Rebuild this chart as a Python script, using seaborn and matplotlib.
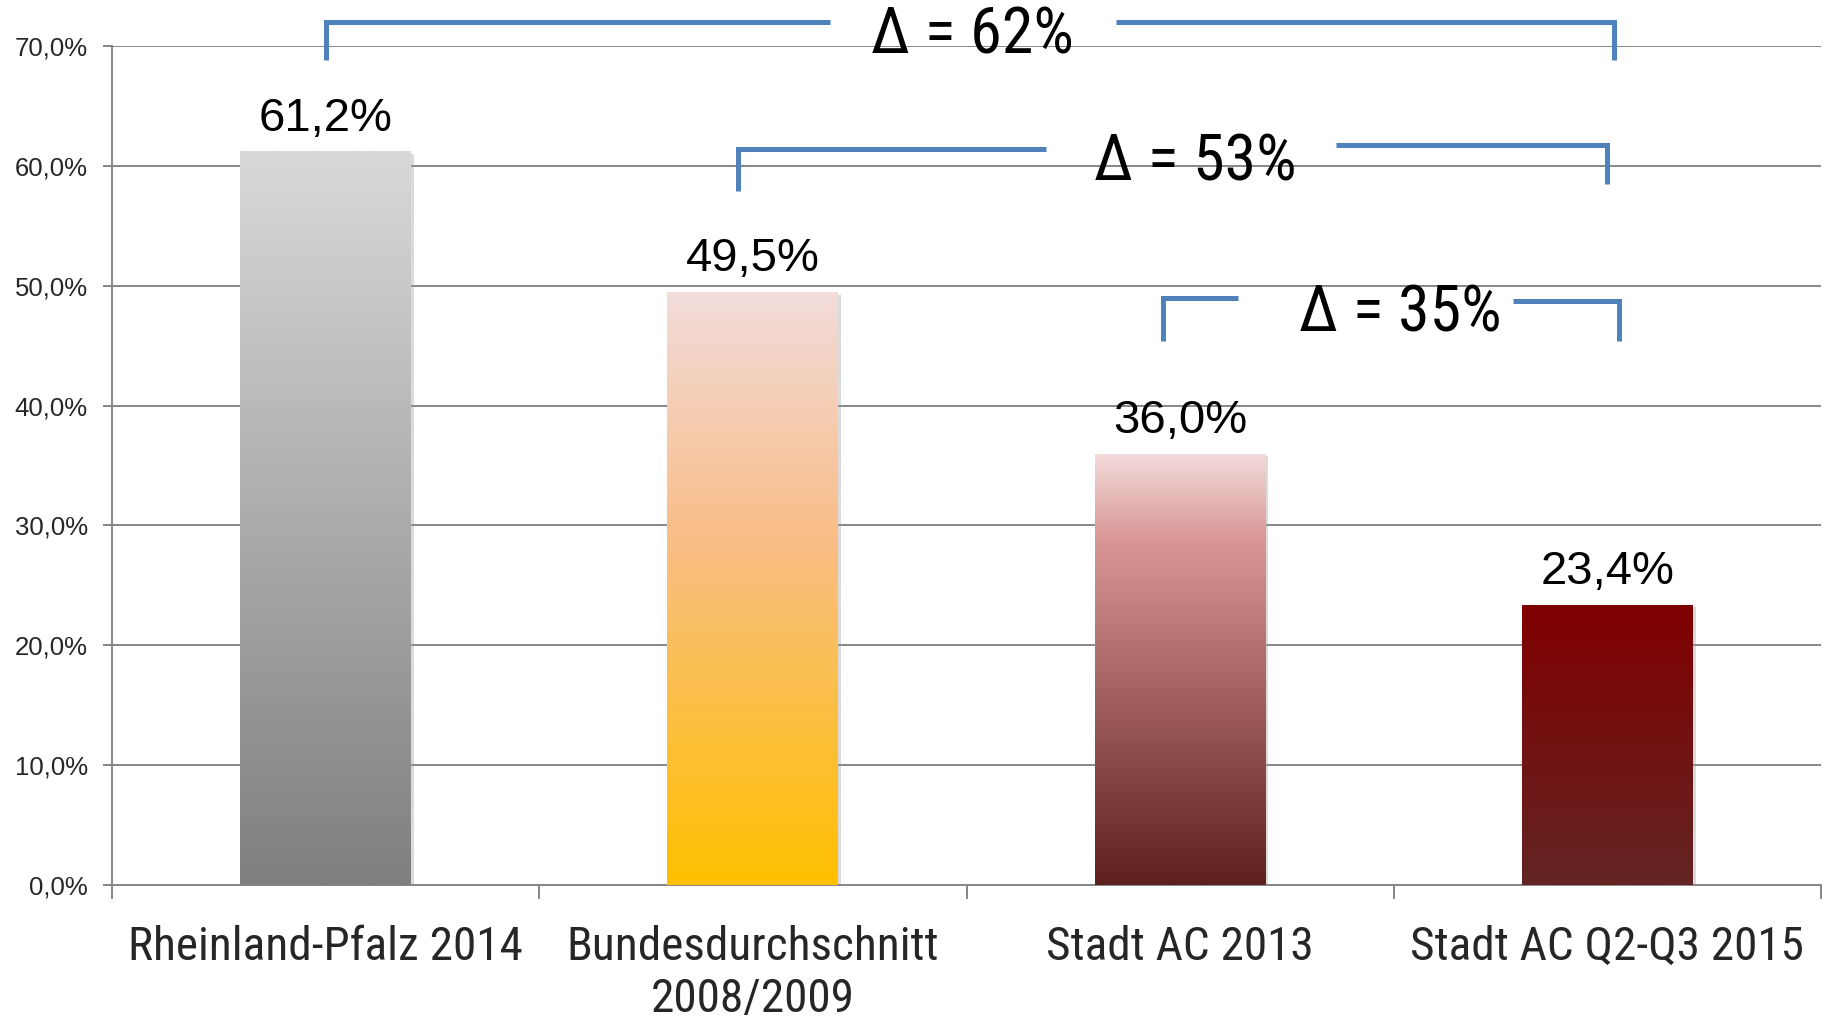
import numpy as np
import pandas as pd
import seaborn as sns
import matplotlib
matplotlib.use("Agg")
import matplotlib.pyplot as plt
from matplotlib.colors import LinearSegmentedColormap
from matplotlib.ticker import FuncFormatter, FixedLocator
import matplotlib.patheffects as pe

# ---------------- data ----------------
categories = ["Rheinland-Pfalz 2014", "Bundesdurchschnitt\n2008/2009",
              "Stadt AC 2013", "Stadt AC Q2-Q3 2015"]
values = [61.2, 49.5, 36.0, 23.4]
value_labels = ["61,2%", "49,5%", "36,0%", "23,4%"]
y_ticks = [0, 10, 20, 30, 40, 50, 60, 70]

# gradient stops per bar (position from top, colour)
bar_gradients = [
    [(0.0, "#D9D9D9"), (1.0, "#7F7F7F")],
    [(0.0, "#F2DCDB"), (0.4, "#F9BE8A"), (1.0, "#FFC000")],
    [(0.0, "#F2DCDB"), (0.2, "#D99694"), (1.0, "#5E1F1F")],
    [(0.0, "#800000"), (1.0, "#632523")],
]

# comparison brackets
bracket_labels = ["Δ = 62%", "Δ = 53%", "Δ = 35%"]
bracket_x_left = [0.0, 0.965, 1.96]
bracket_x_gap_l = [1.18, 1.685, 2.135]
bracket_x_gap_r = [1.85, 2.365, 2.78]
bracket_x_right = [3.015, 3.0, 3.028]
bracket_y_top_l = [72.0, 61.4, 49.0]
bracket_y_top_r = [72.0, 61.75, 48.7]
bracket_y_bot_l = [68.8, 57.9, 45.4]
bracket_y_bot_r = [68.8, 58.5, 45.4]
bracket_text_x = [1.515, 2.035, 2.515]
bracket_text_y = [70.9, 60.3, 47.7]

# ---------------- style ----------------
sns.set_theme(style="white")
plt.rcParams['font.family'] = ['Liberation Sans', 'DejaVu Sans']
narrow = ['Roboto Condensed', 'IBM Plex Sans Condensed', 'DejaVu Sans']
grid_col = "#868686"
blue = "#4F81BD"

fig = plt.figure(figsize=(18.25, 10.18), dpi=100)
ax = fig.add_axes([0.0614, 0.1306, 0.9364, 0.8242])

df = pd.DataFrame({"cat": categories, "val": values})
sns.barplot(data=df, x="cat", y="val", ax=ax, width=0.4, color="white",
            edgecolor="none", zorder=2)

for p, stops in zip(ax.patches, bar_gradients):
    p.set_path_effects([pe.SimplePatchShadow(offset=(2, -2), shadow_rgbFace="#999999", alpha=0.35),
                        pe.Normal()])
    x0, w, h = p.get_x(), p.get_width(), p.get_height()
    cmap = LinearSegmentedColormap.from_list("g", stops)
    grad = np.linspace(0, 1, 256).reshape(-1, 1)
    im = ax.imshow(grad, cmap=cmap, extent=[x0, x0 + w, 0, h], origin="upper",
                   aspect="auto", zorder=3, interpolation="bilinear")
    im.set_clip_path(p)

ax.set_xlim(-0.5, 3.5)
ax.set_ylim(0, 70)

# value labels
for p, lab in zip(ax.patches, value_labels):
    ax.annotate(lab, (p.get_x() + p.get_width() / 2, p.get_height()),
                xytext=(0, 15), textcoords="offset points", ha="center",
                va="baseline", fontsize=34, color="black", zorder=5)

# axes style
ax.yaxis.set_major_locator(FixedLocator(y_ticks))
ax.yaxis.set_major_formatter(FuncFormatter(lambda v, _: f"{v:.1f}%".replace(".", ",")))
ax.grid(axis="y", color=grid_col, linewidth=1.4, zorder=0)
ax.set_axisbelow(True)
for s in ["top", "right"]:
    ax.spines[s].set_visible(False)
for s in ["left", "bottom"]:
    ax.spines[s].set_color(grid_col)
    ax.spines[s].set_linewidth(1.4)
ax.tick_params(axis="y", which="major", length=6.5, width=1.4, color=grid_col,
               labelsize=18.5, pad=11, left=True, direction="out")
ax.set_xticks([-0.5, 0.5, 1.5, 2.5, 3.5], minor=True)
ax.tick_params(axis="x", which="minor", length=10, width=1.4, color=grid_col,
               bottom=True, direction="out")
ax.tick_params(axis="x", which="major", length=0, pad=29)
for t in ax.get_xticklabels():
    t.set_fontfamily(narrow)
    t.set_fontsize(34)
    t.set_linespacing(1.22)
ax.set_xlabel("")
ax.set_ylabel("")

# brackets
for i in range(len(bracket_labels)):
    kw = dict(color=blue, linewidth=3.6, solid_capstyle="butt",
              solid_joinstyle="miter", clip_on=False, zorder=6)
    ax.plot([bracket_x_left[i], bracket_x_left[i], bracket_x_gap_l[i]],
            [bracket_y_bot_l[i], bracket_y_top_l[i], bracket_y_top_l[i]], **kw)
    ax.plot([bracket_x_gap_r[i], bracket_x_right[i], bracket_x_right[i]],
            [bracket_y_top_r[i], bracket_y_top_r[i], bracket_y_bot_r[i]], **kw)
    ax.text(bracket_text_x[i], bracket_text_y[i], bracket_labels[i],
            ha="center", va="center", fontsize=46, family=narrow,
            color="black", zorder=6, clip_on=False)

fig.savefig("out.png", dpi=100)
